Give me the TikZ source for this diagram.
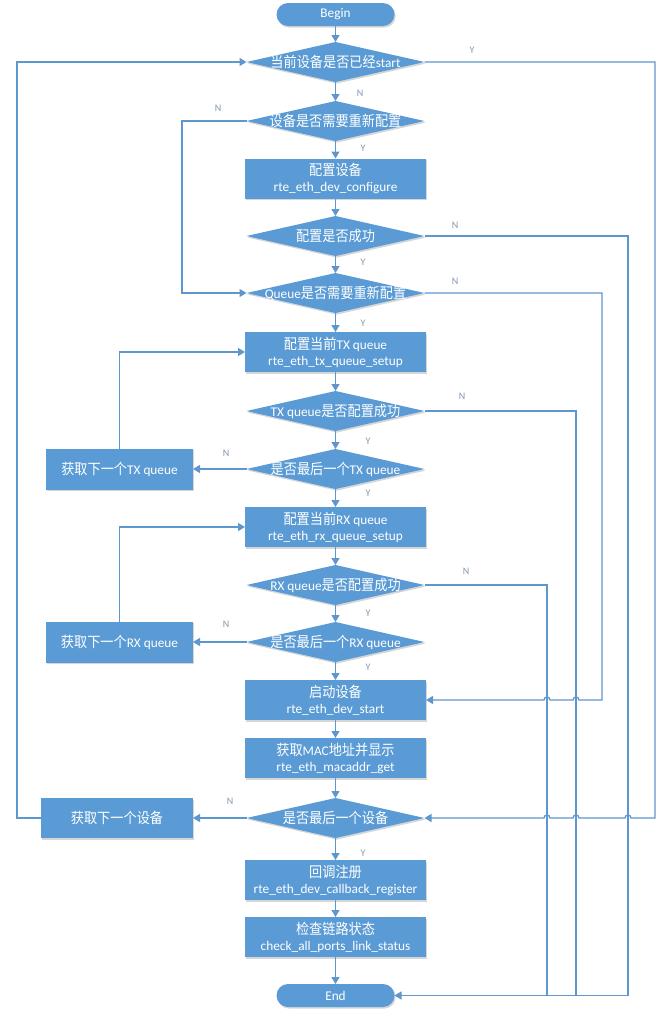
\documentclass[tikz,border=0pt]{standalone}
\usepackage{fontspec}
\setmainfont{Carlito}
\newfontfamily\zhfont[Scale=1.1,FakeStretch=0.9]{Noto Sans CJK SC}
\newcommand\zhs[1]{{\zhfont #1}}
\usetikzlibrary{arrows.meta,shadows,shapes.geometric,calc}
\definecolor{flowblue}{HTML}{5B9BD5}
\definecolor{wireblue}{HTML}{5E96CE}
\definecolor{tagcol}{HTML}{8497B0}

\begin{document}
\begin{tikzpicture}[x=1pt,y=-1pt,
  every node/.style={font=\fontsize{13.3}{16}\selectfont},
  softshadow/.style={drop shadow={shadow xshift=1.2pt,shadow yshift=-1.6pt,opacity=0.16,fill=black}},
  procbox/.style={rectangle,fill=flowblue,text=white,minimum width=181,minimum height=40,
    inner sep=0,outer sep=0,align=center,softshadow},
  sidebox/.style={procbox,minimum width=147,minimum height=41},
  decbox/.style={diamond,fill=flowblue,minimum width=178,minimum height=40,inner sep=0,outer sep=0,softshadow},
  dectext/.style={text=white,inner sep=0},
  termbox/.style={rectangle,rounded corners=11.5pt,fill=flowblue,text=white,minimum width=118,
    minimum height=23,inner sep=0,outer sep=0,softshadow},
  wire/.style={draw=wireblue,line width=1.3pt},
  flow/.style={wire,-{Triangle[length=7pt,width=8pt]}},
  tag/.style={text=tagcol,font=\fontsize{10}{12}\selectfont,inner sep=0}
]
\useasboundingbox (0,0) rectangle (668,1023);

% main column
\node[termbox] (begin) at (335.5,14.5) {Begin};
\node[decbox,label={[dectext]center:\zhs{当前设备是否已经}start}] (d1) at (335.5,62) {};
\node[decbox,label={[dectext]center:\zhs{设备是否需要重新配置}}] (d2) at (335.5,121) {};
\node[procbox] (cfg) at (335.5,178.5) {\zhs{配置设备}\\rte\_eth\_dev\_configure};
\node[decbox,label={[dectext]center:\zhs{配置是否成功}}] (d3) at (335.5,236) {};
\node[decbox,label={[dectext]center:Queue\zhs{是否需要重新配置}}] (d4) at (335.5,293) {};
\node[procbox] (tx) at (335.5,352) {\zhs{配置当前}TX queue\\rte\_eth\_tx\_queue\_setup};
\node[decbox,label={[dectext]center:TX queue\zhs{是否配置成功}}] (d5) at (335.5,411) {};
\node[decbox,label={[dectext]center:\zhs{是否最后一个}TX queue}] (d6) at (335.5,469) {};
\node[procbox] (rx) at (335.5,527) {\zhs{配置当前}RX queue\\rte\_eth\_rx\_queue\_setup};
\node[decbox,label={[dectext]center:RX queue\zhs{是否配置成功}}] (d7) at (335.5,585) {};
\node[decbox,label={[dectext]center:\zhs{是否最后一个}RX queue}] (d8) at (335.5,642) {};
\node[procbox] (startdev) at (335.5,700) {\zhs{启动设备}\\rte\_eth\_dev\_start};
\node[procbox] (mac) at (335.5,758) {\zhs{获取}MAC\zhs{地址并显示}\\rte\_eth\_macaddr\_get};
\node[decbox,label={[dectext]center:\zhs{是否最后一个设备}}] (d9) at (335.5,818) {};
\node[procbox] (cb) at (335.5,880) {\zhs{回调注册}\\rte\_eth\_dev\_callback\_register};
\node[procbox] (chk) at (335.5,937) {\zhs{检查链路状态}\\check\_all\_ports\_link\_status};
\node[termbox] (end) at (335.5,995.5) {End};

% side boxes
\node[sidebox] (ntx) at (119.5,469) {\zhs{获取下一个}TX queue};
\node[sidebox] (nrx) at (119.5,642) {\zhs{获取下一个}RX queue};
\node[sidebox,minimum width=152,minimum height=40] (ndev) at (117,818) {\zhs{获取下一个设备}};

% routing columns
\coordinate (colE) at (655,0);
\coordinate (colD) at (628,0);
\coordinate (colC) at (602,0);
\coordinate (colB) at (576,0);
\coordinate (colA) at (547,0);
\coordinate (colL) at (17,0);
\coordinate (colM) at (182,0);

% straight flow down the middle
\draw[flow] (begin) -- (d1);
\draw[flow] (d1) -- (d2);
\draw[flow] (d2) -- (cfg);
\draw[flow] (cfg) -- (d3);
\draw[flow] (d3) -- (d4);
\draw[flow] (d4) -- (tx);
\draw[flow] (tx) -- (d5);
\draw[flow] (d5) -- (d6);
\draw[flow] (d6) -- (rx);
\draw[flow] (rx) -- (d7);
\draw[flow] (d7) -- (d8);
\draw[flow] (d8) -- (startdev);
\draw[flow] (startdev) -- (mac);
\draw[flow] (mac) -- (d9);
\draw[flow] (d9) -- (cb);
\draw[flow] (cb) -- (chk);
\draw[flow] (chk) -- (end);

% right-hand bypasses (with hops over crossing wires)
\draw[flow] (d1.east) -- (d1.east -| colE) -- (d9.east -| colE)
  -- ($(d9.east -| colD)+(3,0)$) arc[start angle=0,end angle=180,radius=3pt]
  -- ($(d9.east -| colB)+(3,0)$) arc[start angle=0,end angle=180,radius=3pt]
  -- ($(d9.east -| colA)+(3,0)$) arc[start angle=0,end angle=180,radius=3pt]
  -- (d9.east);
\draw[flow] (d3.east) -- (d3.east -| colD) -- (end.east -| colD) -- (end.east);
\draw[wire] (d5.east) -- (d5.east -| colB) -- (end.east -| colB);
\draw[wire] (d7.east) -- (d7.east -| colA) -- (end.east -| colA);
\draw[flow] (d4.east) -- (d4.east -| colC) -- (startdev.east -| colC)
  -- ($(startdev.east -| colB)+(3,0)$) arc[start angle=0,end angle=180,radius=3pt]
  -- ($(startdev.east -| colA)+(3,0)$) arc[start angle=0,end angle=180,radius=3pt]
  -- (startdev.east);

% left-hand loops
\draw[flow] (d2.west) -- (d2.west -| colM) -- (d4.west -| colM) -- (d4.west);
\draw[flow] (ndev.west) -- (ndev.west -| colL) -- (d1.west -| colL) -- (d1.west);
\draw[flow] (d9.west) -- (ndev.east);
\draw[flow] (d6.west) -- (ntx.east);
\draw[flow] (d8.west) -- (nrx.east);
\draw[flow] (ntx.north) -- (ntx.north |- tx.west) -- (tx.west);
\draw[flow] (nrx.north) -- (nrx.north |- rx.west) -- (rx.west);

% branch tags
\node[tag] (t1) at (472,50) {Y};
\node[tag] (t2) at (360,93) {N};
\node[tag] (t3) at (218,108) {N};
\node[tag] (t4) at (363,148) {Y};
\node[tag] (t5) at (455,225) {N};
\node[tag] (t6) at (363,262) {Y};
\node[tag] (t7) at (455,281) {N};
\node[tag] (t8) at (363,323) {Y};
\node[tag] (t9) at (462,396) {N};
\node[tag] (t10) at (368,441) {Y};
\node[tag] (t11) at (226,453) {N};
\node[tag] (t12) at (368,493) {Y};
\node[tag] (t13) at (466,571) {N};
\node[tag] (t14) at (368,613) {Y};
\node[tag] (t15) at (226,624) {N};
\node[tag] (t16) at (368,667) {Y};
\node[tag] (t17) at (230,801) {N};
\node[tag] (t18) at (363,853) {Y};
\end{tikzpicture}
\end{document}
